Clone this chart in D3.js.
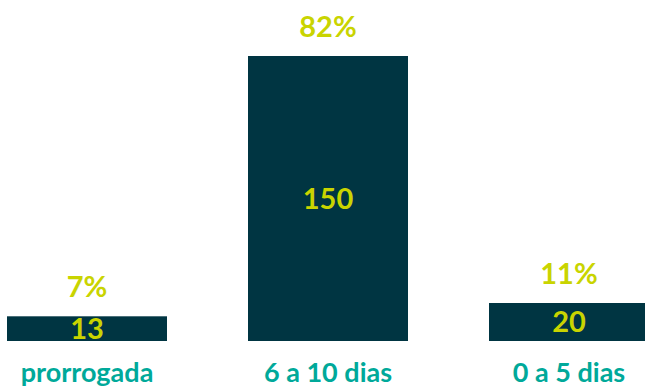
<!DOCTYPE html>
<html>
<head>
<meta charset="utf-8">
<script src="https://cdn.jsdelivr.net/npm/d3@7"></script>
<style>
  html, body { margin: 0; padding: 0; background: #ffffff; }
  svg { display: block; }
  text { font-family: Lato, "Open Sans", sans-serif; font-weight: 700; }
</style>
</head>
<body>
<svg id="chart" width="645" height="389"></svg>
<script>
// Data
const categories = ["prorrogada", "6 a 10 dias", "0 a 5 dias"];
const counts = [13, 150, 20];
const shares = ["7%", "82%", "11%"];

const width = 645, height = 389;
const baseline = 341;

const svg = d3.select("#chart");

const x = d3.scaleBand()
  .domain(categories)
  .range([-33.5, 689.5])
  .paddingInner(81 / 241)
  .paddingOuter(40.5 / 241);

const y = d3.scaleLinear()
  .domain([0, 150])
  .range([baseline, 56]);

const rows = categories.map((c, i) => ({ cat: c, count: counts[i], share: shares[i] }));

// Bars
svg.selectAll("rect.bar")
  .data(rows)
  .join("rect")
  .attr("class", "bar")
  .attr("x", d => x(d.cat))
  .attr("y", d => y(d.count))
  .attr("width", x.bandwidth())
  .attr("height", d => baseline - y(d.count))
  .attr("fill", "#003542");

// Counts centred inside each bar
svg.selectAll("text.count")
  .data(rows)
  .join("text")
  .attr("class", "count")
  .attr("x", d => x(d.cat) + x.bandwidth() / 2)
  .attr("y", d => (y(d.count) + baseline) / 2)
  .attr("dy", "0.36em")
  .attr("text-anchor", "middle")
  .attr("font-size", 29)
  .attr("fill", "#c9d400")
  .text(d => d.count);

// Shares above each bar
svg.selectAll("text.share")
  .data(rows)
  .join("text")
  .attr("class", "share")
  .attr("x", d => x(d.cat) + x.bandwidth() / 2)
  .attr("y", d => y(d.count) - 19)
  .attr("text-anchor", "middle")
  .attr("font-size", 29)
  .attr("fill", "#c9d400")
  .text(d => d.share);

// Category axis labels
const xAxis = d3.axisBottom(x).tickSize(0).tickPadding(0);
const gx = svg.append("g")
  .attr("transform", `translate(0,${baseline})`)
  .call(xAxis);
gx.select(".domain").remove();
gx.selectAll("text")
  .attr("y", 0)
  .attr("dy", 0)
  .attr("transform", "translate(0,41)")
  .attr("font-size", 27)
  .attr("font-family", "Lato, 'Open Sans', sans-serif")
  .attr("font-weight", 700)
  .attr("fill", "#00a99a");
</script>
</body>
</html>
